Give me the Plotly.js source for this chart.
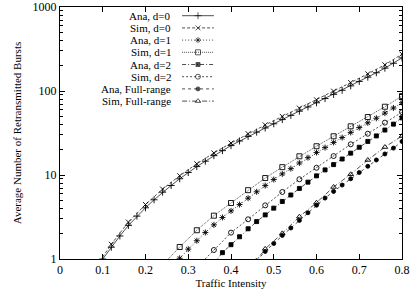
<!DOCTYPE html>
<html>
<head>
<meta charset="utf-8">
<script src="https://cdn.plot.ly/plotly-3.0.1.min.js"></script>
<style>html,body{margin:0;padding:0;background:#fff;}#chart{width:419px;height:296px;}</style>
</head>
<body>
<div id="chart"></div>
<script>
// ---- data ----
const legendLabels = ['Ana, d=0','Sim, d=0','Ana, d=1','Sim, d=1','Ana, d=2','Sim, d=2','Ana, Full-range','Sim, Full-range'];

const xAnaD0 = [0.10,0.12,0.14,0.16,0.18,0.20,0.22,0.24,0.26,0.28,0.30,0.32,0.34,0.36,0.38,0.40,0.42,0.44,0.46,0.48,0.50,0.52,0.54,0.56,0.58,0.60,0.62,0.64,0.66,0.68,0.70,0.72,0.74,0.76,0.78,0.80];
const yAnaD0 = [1.00,1.38,1.88,2.51,3.24,4.07,5.07,6.24,7.50,9.02,10.7,12.6,14.6,17.0,19.5,22.4,25.4,28.8,32.4,36.3,40.7,45.7,51.3,57.5,64.6,72.4,81.3,91.2,102,115,130,146,165,187,214,248];

const xSimD0 = [0.08,0.12,0.16,0.20,0.24,0.28,0.32,0.36,0.40,0.44,0.48,0.52,0.56,0.60,0.64,0.68,0.72,0.76,0.80];
const ySimD0 = [0.75,1.50,2.75,4.45,6.8,9.8,13.6,18.3,24.0,31.0,39.5,49.8,62.5,78.5,99.5,126,160,205,275];

const xAnaD1 = [0.28,0.30,0.32,0.34,0.36,0.38,0.40,0.42,0.44,0.46,0.48,0.50,0.52,0.54,0.56,0.58,0.60,0.62,0.64,0.66,0.68,0.70,0.72,0.74,0.76,0.78,0.80];
const yAnaD1 = [1.02,1.31,1.65,2.07,2.55,3.12,3.74,4.45,5.30,6.31,7.48,8.83,10.3,11.9,13.9,16.1,18.5,21.2,24.4,27.9,32.1,36.7,41.8,47.4,54.5,62.8,72.6];

const xSimD1 = [0.24,0.28,0.32,0.36,0.40,0.44,0.48,0.52,0.56,0.60,0.64,0.68,0.72,0.76,0.80];
const ySimD1 = [0.85,1.39,2.2,3.28,4.64,6.6,9.2,12.4,16.7,22,28.9,38,49,65,87];

const xAnaD2 = [0.36,0.38,0.40,0.42,0.44,0.46,0.48,0.50,0.52,0.54,0.56,0.58,0.60,0.62,0.64,0.66,0.68,0.70,0.72,0.74,0.76,0.78,0.80];
const yAnaD2 = [0.89,1.19,1.48,1.84,2.29,2.79,3.35,4.03,4.84,5.78,6.92,8.22,9.77,11.5,13.3,15.5,18.2,21.4,25.1,29.2,34.3,40.3,47.9];

const xSimD2 = [0.32,0.36,0.40,0.44,0.48,0.52,0.56,0.60,0.64,0.68,0.72,0.76,0.80];
const ySimD2 = [0.79,1.28,2.06,2.97,4.35,6.28,8.9,12.2,16.8,23.2,31,42,56];

const xAnaFull = [0.46,0.48,0.50,0.52,0.54,0.56,0.58,0.60,0.62,0.64,0.66,0.68,0.70,0.72,0.74,0.76,0.78,0.80];
const yAnaFull = [0.95,1.23,1.53,1.91,2.34,2.88,3.55,4.37,5.31,6.38,7.59,9.02,10.7,12.7,15.1,17.8,20.9,25.1];

const xSimFull = [0.44,0.48,0.52,0.56,0.60,0.64,0.68,0.72,0.76,0.80];
const ySimFull = [0.71,1.32,2.02,3.19,4.68,7.2,10.2,15.1,21.5,29.1];

const xTickVals = [0,0.1,0.2,0.3,0.4,0.5,0.6,0.7,0.8];
const yTickVals = [1,10,100,1000];
const yTickText = ['1','10','100','1000'];

// ---- styles ----
const seriesX = [xAnaD0,xSimD0,xAnaD1,xSimD1,xAnaD2,xSimD2,xAnaFull,xSimFull];
const seriesY = [yAnaD0,ySimD0,yAnaD1,ySimD1,yAnaD2,ySimD2,yAnaFull,ySimFull];
const dashes = ['solid','3px,2px','1px,2px','1px,1px','4px,2px,1px,2px','2px,2px','3px,3px','5px,2px,1px,2px'];
const symbols = ['cross-thin-open','x-thin-open','asterisk-open','square-open','square','circle-open','circle','triangle-up-open'];
const sizes = [5,5,5,5,4,5,4,5];

const FONT = 'Liberation Serif, Times New Roman, serif';
const traces = [];
for (let i = 0; i < 8; i++) {
  traces.push({
    x: seriesX[i], y: seriesY[i], type: 'scatter', mode: 'lines+markers',
    name: legendLabels[i], showlegend: false,
    line: {color: '#222', width: 0.8, dash: dashes[i]},
    marker: {symbol: symbols[i], size: sizes[i], color: '#000', line: {color: '#000', width: 0.9}}
  });
}

// legend samples drawn on an overlay axis spanning the plot area [0,1]
const legX0 = 0.357, legX1 = 0.450, legXm = 0.4035;
const legTop = 259 - 15.7, legStep = 12.2;
const annotations = [];
for (let i = 0; i < 8; i++) {
  const yy = (legTop - i * legStep) / 252;
  traces.push({
    x: [legX0, legXm, legX1], y: [yy, yy, yy], xaxis: 'x2', yaxis: 'y2',
    type: 'scatter', mode: 'lines+markers', showlegend: false, hoverinfo: 'skip',
    line: {color: '#222', width: 0.8, dash: dashes[i]},
    marker: {symbol: symbols[i], size: [0, sizes[i], 0], color: '#000', line: {color: '#000', width: 0.9}}
  });
  annotations.push({
    xref: 'x2', yref: 'y2', x: 0.330, y: yy, text: legendLabels[i], showarrow: false,
    xanchor: 'right', yanchor: 'middle', font: {family: FONT, size: 11, color: '#000'}
  });
}

const layout = {
  width: 419, height: 296,
  margin: {l: 60, r: 17, t: 7, b: 37},
  paper_bgcolor: '#fff', plot_bgcolor: '#fff',
  font: {family: FONT, size: 12, color: '#000'},
  showlegend: false,
  xaxis: {
    range: [0, 0.8], tickmode: 'array', tickvals: xTickVals,
    ticks: 'inside', ticklen: 5, tickcolor: '#000', showline: true, linecolor: '#000', linewidth: 1,
    mirror: 'ticks', showgrid: false, zeroline: false,
    tickfont: {family: FONT, size: 12},
    title: {text: 'Traffic Intensity', font: {family: FONT, size: 11}, standoff: 0}
  },
  yaxis: {
    type: 'log', range: [0, 3], tickmode: 'array', tickvals: yTickVals, ticktext: yTickText,
    ticks: 'inside', ticklen: 5, tickcolor: '#000', showline: true, linecolor: '#000', linewidth: 1,
    mirror: 'ticks', showgrid: false, zeroline: false,
    minor: {ticks: 'inside', ticklen: 3, tickcolor: '#000', dtick: 'D1', showgrid: false},
    tickfont: {family: FONT, size: 12},
    title: {text: 'Average Number of Retransmitted Bursts', font: {family: FONT, size: 11}, standoff: 8}
  },
  xaxis2: {overlaying: 'x', range: [0, 1], visible: false, fixedrange: true},
  yaxis2: {overlaying: 'y', range: [0, 1], visible: false, fixedrange: true},
  annotations: annotations
};

Plotly.newPlot('chart', traces, layout, {staticPlot: true, displayModeBar: false});
</script>
</body>
</html>
